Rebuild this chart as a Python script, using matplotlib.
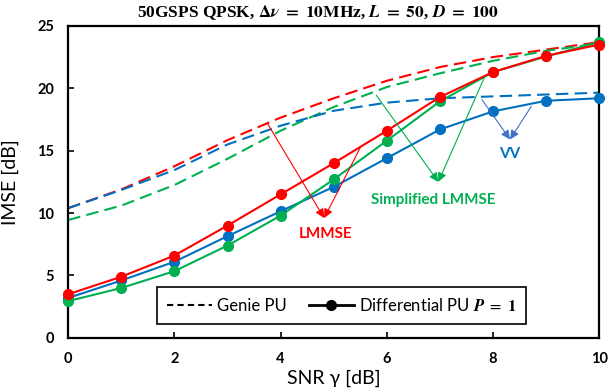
import numpy as np
import matplotlib
matplotlib.use("Agg")
import matplotlib.pyplot as plt
from matplotlib.lines import Line2D

plt.rcParams['font.family'] = ['Lato', 'DejaVu Sans']
plt.rcParams['mathtext.fontset'] = 'stix'

# SNR axis
snr = [0, 1, 2, 3, 4, 5, 6, 7, 8, 9, 10]

# Differential PU, P = 1 (solid, markers)
lmmse_diff = [3.5, 4.9, 6.6, 9.0, 11.5, 14.0, 16.6, 19.3, 21.3, 22.6, 23.5]
simp_diff = [2.95, 4.0, 5.35, 7.4, 9.8, 12.7, 15.8, 18.95, 21.3, 22.55, 23.7]
vv_diff = [3.2, 4.6, 6.1, 8.15, 10.15, 12.1, 14.4, 16.7, 18.15, 19.0, 19.2]

# Genie PU (dashed)
lmmse_genie = [10.4, 11.9, 13.75, 15.85, 17.65, 19.2, 20.6, 21.7, 22.5, 23.1, 23.7]
simp_genie = [9.45, 10.6, 12.25, 14.35, 16.6, 18.5, 20.1, 21.2, 22.2, 23.0, 23.6]
vv_genie = [10.4, 11.85, 13.45, 15.5, 17.0, 18.2, 18.85, 19.2, 19.35, 19.5, 19.65]

red = '#FF0000'
green = '#00B050'
blue = '#0070C0'
arrow_blue = '#4472C4'

fig = plt.figure(figsize=(6.09, 3.92), dpi=100)
ax = fig.add_axes([0.112, 0.138, 0.872, 0.796])

dash = (6, 3)
for yv, c in [(lmmse_genie, red), (simp_genie, green), (vv_genie, blue)]:
    ax.plot(snr, yv, color=c, lw=1.5, dashes=dash)
for yv, c in [(vv_diff, blue), (simp_diff, green), (lmmse_diff, red)]:
    ax.plot(snr, yv, color=c, lw=1.5, marker='o', ms=7, clip_on=False, zorder=3)

ax.set_xlim(0, 10)
ax.set_ylim(0, 25)
ax.set_xticks(range(0, 11, 2))
ax.set_yticks(range(0, 26, 5))
ax.tick_params(direction='in', length=4, width=1.2, labelsize=10.5, pad=10)
for lab in ax.get_xticklabels() + ax.get_yticklabels():
    lab.set_fontweight('bold')
for s in ax.spines.values():
    s.set_linewidth(1.6)

ax.set_xlabel('SNR γ [dB]', fontsize=14, labelpad=3)
ax.set_ylabel('IMSE [dB]', fontsize=14)
ax.yaxis.set_label_coords(-0.093, 0.5)

fig.text(0.522, 0.968,
         r'50GSPS QPSK, $\mathbf{\Delta}\boldsymbol{\nu}\mathbf{\ =\ 10MHz}$, '
         r'$\boldsymbol{L}\mathbf{\ =\ 50}$, $\boldsymbol{D}\mathbf{\ =\ 100}$',
         ha='center', va='center', fontsize=12.5, fontweight='bold',
         family=['Liberation Serif', 'DejaVu Serif'])

head = '-|>,head_length=0.45,head_width=0.22'


def pointer(starts, end, color):
    for s in starts:
        ax.annotate('', xy=end, xytext=s,
                    arrowprops=dict(arrowstyle=head, color=color, lw=0.8,
                                    shrinkA=0, shrinkB=0, mutation_scale=12))


pointer([(3.75, 17.2), (5.5, 15.25)], (4.82, 9.6), red)
ax.text(4.84, 8.3, 'LMMSE', color=red, ha='center', va='center',
        fontsize=11, fontweight='bold')
pointer([(5.8, 19.45), (7.84, 20.9)], (6.97, 12.5), green)
ax.text(6.88, 11.05, 'Simplified LMMSE', color=green, ha='center', va='center',
        fontsize=11, fontweight='bold')
pointer([(7.79, 19.1), (8.72, 18.55)], (8.32, 15.9), arrow_blue)
ax.text(8.32, 14.75, 'VV', color=blue, ha='center', va='center',
        fontsize=11, fontweight='bold')

handles = [Line2D([], [], color='black', lw=1.5, dashes=(3, 2)),
           Line2D([], [], color='black', lw=2, marker='o', ms=7)]
labels = ['Genie PU', r'Differential PU $\boldsymbol{P}\ =\ \mathbf{1}$']
leg = ax.legend(handles, labels, loc='center', bbox_to_anchor=(0.515, 0.104), ncol=2,
                fontsize=12, frameon=True, fancybox=False, framealpha=1,
                edgecolor='black', handlelength=2.7, handletextpad=0.3,
                columnspacing=1.3, borderpad=0.6)
leg.get_frame().set_linewidth(1.2)

fig.savefig('out.png', dpi=100)
